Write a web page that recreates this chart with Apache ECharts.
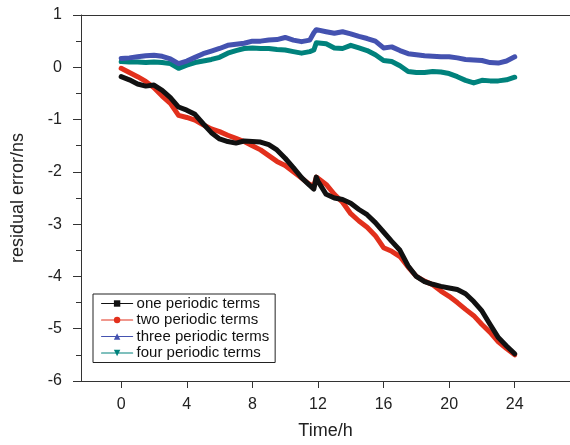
<!DOCTYPE html>
<html>
<head>
<meta charset="utf-8">
<script src="https://cdn.jsdelivr.net/npm/echarts@6/dist/echarts.min.js"></script>
<style>html,body{margin:0;padding:0;background:#fff}#c{width:570px;height:445px}</style>
</head>
<body>
<div id="c"></div>
<script>
const seriesNames = ['one periodic terms', 'two periodic terms', 'three periodic terms', 'four periodic terms'];
const xTicks = [0, 4, 8, 12, 16, 20, 24];
const time = [0,0.5,1,1.5,2,2.5,3,3.5,4,4.5,5,5.5,6,6.5,7,7.5,8,8.5,9,9.5,10,10.5,11,11.5,11.75,11.9,12,12.5,13,13.5,14,14.5,15,15.5,16,16.5,17,17.5,18,18.5,19,19.5,20,20.5,21,21.5,22,22.5,23,23.5,24];
const one = [-0.18,-0.24,-0.32,-0.36,-0.34,-0.44,-0.58,-0.76,-0.82,-0.90,-1.08,-1.25,-1.37,-1.42,-1.45,-1.41,-1.42,-1.43,-1.48,-1.58,-1.74,-1.92,-2.11,-2.26,-2.33,-2.10,-2.18,-2.43,-2.50,-2.53,-2.60,-2.72,-2.82,-2.97,-3.15,-3.33,-3.50,-3.80,-4.00,-4.10,-4.15,-4.19,-4.22,-4.25,-4.33,-4.48,-4.66,-4.92,-5.17,-5.33,-5.48];
const two = [-0.02,-0.10,-0.18,-0.27,-0.39,-0.55,-0.69,-0.92,-0.96,-1.01,-1.10,-1.18,-1.23,-1.30,-1.36,-1.42,-1.50,-1.58,-1.69,-1.80,-1.88,-2.00,-2.12,-2.24,-2.27,-2.10,-2.12,-2.24,-2.43,-2.58,-2.80,-2.94,-3.06,-3.22,-3.45,-3.52,-3.62,-3.82,-4.00,-4.09,-4.16,-4.28,-4.38,-4.50,-4.63,-4.75,-4.92,-5.07,-5.25,-5.38,-5.50];
const three = [0.17,0.18,0.20,0.22,0.23,0.21,0.16,0.07,0.12,0.19,0.26,0.31,0.36,0.42,0.44,0.46,0.50,0.50,0.52,0.53,0.57,0.52,0.49,0.52,0.66,0.72,0.74,0.68,0.65,0.68,0.64,0.59,0.55,0.50,0.37,0.39,0.32,0.26,0.24,0.22,0.21,0.20,0.20,0.18,0.15,0.14,0.13,0.09,0.08,0.12,0.20];
const four = [0.11,0.10,0.10,0.09,0.10,0.09,0.07,-0.02,0.04,0.09,0.12,0.15,0.19,0.27,0.32,0.36,0.37,0.36,0.36,0.34,0.33,0.30,0.27,0.30,0.33,0.47,0.49,0.45,0.37,0.36,0.42,0.37,0.32,0.24,0.13,0.11,0.03,-0.08,-0.10,-0.10,-0.08,-0.09,-0.12,-0.18,-0.25,-0.30,-0.25,-0.26,-0.26,-0.24,-0.19];

const colors = ['#111111', '#e2301c', '#4452b0', '#00827c'];
const symbols = ['rect', 'circle', 'triangle', 'triangle'];
const rotations = [0, 0, 0, 180];
const values = [one, two, three, four];

const chart = echarts.init(document.getElementById('c'), null, {renderer: 'canvas'});
const font = 'Arial, "Liberation Sans", sans-serif';
const axisCol = '#333';
chart.setOption({
  animation: false,
  backgroundColor: '#fff',
  grid: {left: 81, top: 15, right: 0, bottom: 64},
  legend: {
    orient: 'vertical', left: 93, top: 294,
    borderColor: '#222', borderWidth: 1, borderRadius: 0,
    padding: [2, 6, 2, 8],
    itemWidth: 31, itemHeight: 8, itemGap: 1.5,
    textStyle: {fontFamily: font, fontSize: 15, color: '#111', padding: [0,0,0,-1]},
    lineStyle: {width: 1.2},
    symbolRotate: 'inherit',
    data: seriesNames
  },
  xAxis: [{
    type: 'value', min: -2.45, max: 27.37,
    name: 'Time/h', nameLocation: 'middle', nameGap: 41,
    nameTextStyle: {fontFamily: font, fontSize: 18, color: '#222'},
    axisLine: {show: true, onZero: false, lineStyle: {color: axisCol, width: 1}},
    axisTick: {show: true, length: 7, customValues: xTicks, lineStyle: {color: axisCol}},
    axisLabel: {customValues: xTicks, fontFamily: font, fontSize: 16, color: '#222', margin: 16},
    splitLine: {show: false}
  }, {
    type: 'value', position: 'top', min: -2.45, max: 27.37,
    axisLine: {show: true, onZero: false, lineStyle: {color: axisCol, width: 1}},
    axisTick: {show: false}, axisLabel: {show: false}, splitLine: {show: false}
  }],
  yAxis: {
    type: 'value', min: -6, max: 1, interval: 1,
    name: 'residual error/ns', nameLocation: 'middle', nameGap: 54,
    nameTextStyle: {fontFamily: font, fontSize: 18, color: '#222'},
    axisLine: {show: true, onZero: false, lineStyle: {color: axisCol, width: 1}},
    axisTick: {show: true, length: 8, lineStyle: {color: axisCol}},
    minorTick: {show: true, splitNumber: 2, length: 5, lineStyle: {color: axisCol}},
    axisLabel: {fontFamily: font, fontSize: 16, color: '#222', margin: 19},
    splitLine: {show: false}
  },
  series: seriesNames.map((n, i) => ({
    name: n, type: 'line', xAxisIndex: 0,
    data: time.map((t, k) => [t, values[i][k]]),
    showSymbol: false, symbol: symbols[i], symbolSize: 6, symbolRotate: rotations[i],
    lineStyle: {color: colors[i], width: 5, join: 'round', cap: 'round'},
    itemStyle: {color: colors[i]},
    z: 10 - i
  }))
});
</script>
</body>
</html>
